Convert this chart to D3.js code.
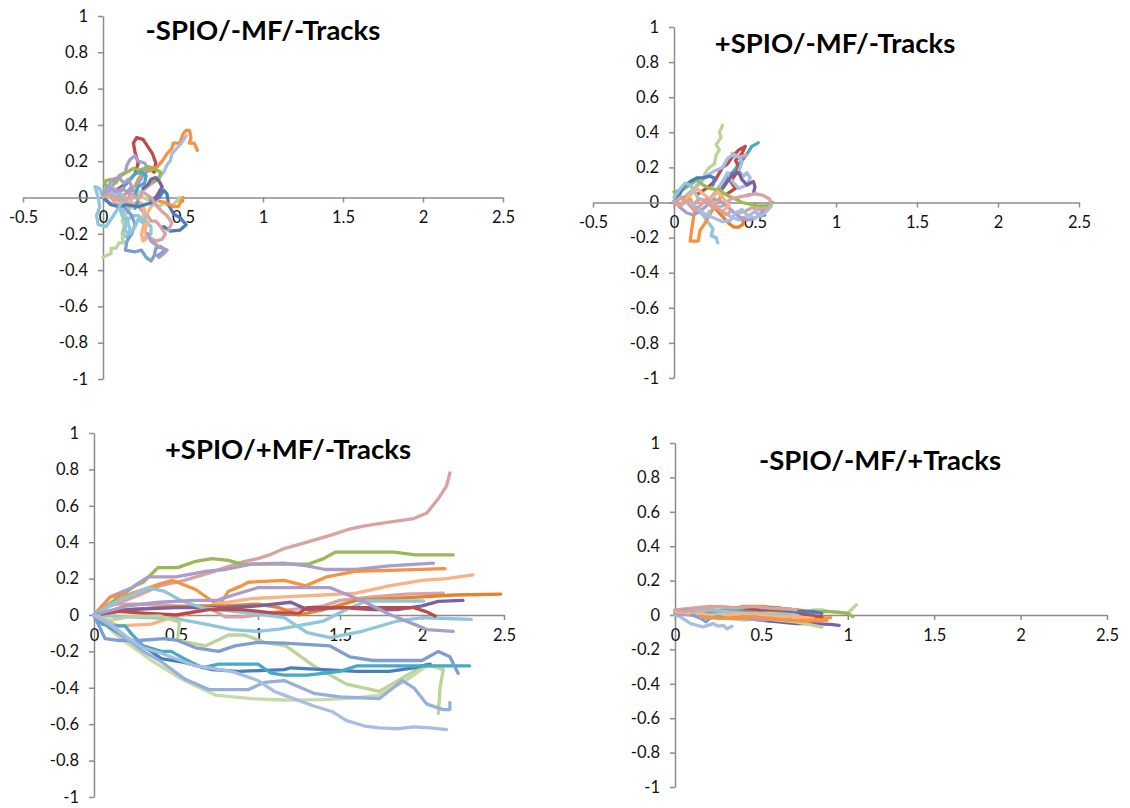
<!DOCTYPE html>
<html>
<head>
<meta charset="utf-8">
<script src="https://cdn.jsdelivr.net/npm/d3@7"></script>
<style>
  body { margin: 0; background: #fff; }
  svg { display: block; }
</style>
</head>
<body>
<svg width="1130" height="808"></svg>
<script>
// tick values
const xTicksWide = [-0.5, 0, 0.5, 1, 1.5, 2, 2.5];
const xTicksNarrow = [0, 0.5, 1, 1.5, 2, 2.5];
const yTicks = [-1, -0.8, -0.6, -0.4, -0.2, 0, 0.2, 0.4, 0.6, 0.8, 1];

const titles = ["-SPIO/-MF/-Tracks", "+SPIO/-MF/-Tracks", "+SPIO/+MF/-Tracks", "-SPIO/-MF/+Tracks"];

// -SPIO/-MF/-Tracks
const tracksA = [
  [[0,0],[0.05,0.03],[0.1,0.05],[0.15,0.08],[0.2,0.13],[0.22,0.19],[0.2,0.25],[0.19,0.3],[0.21,0.33],[0.25,0.32],[0.28,0.28],[0.31,0.24],[0.33,0.19],[0.32,0.14],[0.29,0.16],[0.26,0.13],[0.24,0.15]],
  [[0,0],[0.05,0.02],[0.1,-0.02],[0.15,0.03],[0.2,0.06],[0.22,0.1],[0.25,0.14],[0.3,0.15],[0.34,0.17],[0.37,0.2],[0.4,0.24],[0.43,0.27],[0.44,0.3],[0.48,0.3],[0.5,0.35],[0.52,0.37],[0.54,0.37],[0.55,0.33],[0.54,0.3],[0.57,0.3],[0.59,0.26]],
  [[0,0],[0.05,0.03],[0.1,0],[0.15,-0.03],[0.22,0.02],[0.28,0.06],[0.34,0.1],[0.38,0.14],[0.4,0.18],[0.42,0.2],[0.43,0.24],[0.46,0.27],[0.49,0.3],[0.52,0.34]],
  [[0,0],[-0.02,0.05],[-0.05,0.06],[-0.03,0],[-0.02,-0.05],[-0.04,-0.1],[-0.03,-0.15],[0.02,-0.16],[0.05,-0.12],[0.08,-0.08],[0.1,-0.05],[0.13,-0.08],[0.15,-0.12],[0.17,-0.18],[0.15,-0.22],[0.12,-0.2],[0.14,-0.14],[0.18,-0.1],[0.22,-0.1],[0.25,-0.12],[0.3,-0.16],[0.3,-0.2],[0.26,-0.22]],
  [[0,0],[0.05,0],[0.1,-0.02],[0.15,-0.03],[0.18,-0.05],[0.15,-0.08],[0.12,-0.13],[0.14,-0.17],[0.12,-0.22],[0.13,-0.25],[0.1,-0.25],[0.08,-0.28],[0.05,-0.28],[0.05,-0.31],[0.02,-0.32],[0,-0.33]],
  [[0,0],[0.04,0.04],[0.08,0.09],[0.1,0.12],[0.14,0.14],[0.15,0.18],[0.17,0.21],[0.2,0.23],[0.22,0.2],[0.26,0.19],[0.28,0.16],[0.25,0.12],[0.22,0.08],[0.2,0.05],[0.16,0.02]],
  [[0.1,-0.02],[0.14,-0.06],[0.18,-0.1],[0.2,-0.15],[0.18,-0.2],[0.15,-0.24],[0.14,-0.29],[0.2,-0.3],[0.24,-0.29],[0.27,-0.33],[0.3,-0.35],[0.32,-0.32],[0.33,-0.28],[0.36,-0.27],[0.39,-0.29],[0.36,-0.31],[0.34,-0.32]],
  [[0,0],[0.04,-0.03],[0.08,-0.04],[0.12,-0.02],[0.16,-0.05],[0.2,-0.03],[0.24,-0.07],[0.28,-0.1],[0.3,-0.13],[0.33,-0.13],[0.36,-0.16],[0.39,-0.2],[0.37,-0.23],[0.33,-0.24],[0.29,-0.22],[0.26,-0.19],[0.27,-0.15]],
  [[0.05,0],[0.1,-0.03],[0.15,-0.01],[0.2,-0.04],[0.24,-0.03],[0.26,-0.07],[0.25,-0.11],[0.28,-0.14],[0.26,-0.18],[0.28,-0.22],[0.25,-0.24],[0.24,-0.2],[0.27,-0.1],[0.3,-0.05],[0.33,-0.03]],
  [[0,0],[0.02,0.05],[0.01,0.09],[0.05,0.1],[0.08,0.08],[0.11,0.12],[0.15,0.14],[0.19,0.16],[0.23,0.15],[0.28,0.17],[0.32,0.16],[0.36,0.14],[0.35,0.1],[0.3,0.08]],
  [[0.2,0.05],[0.25,0],[0.3,-0.02],[0.35,-0.05],[0.38,-0.03],[0.42,-0.05],[0.45,-0.03],[0.48,0],[0.47,-0.02]],
  [[0.1,0.02],[0.13,0.06],[0.16,0.09],[0.2,0.13],[0.24,0.14],[0.27,0.12],[0.26,0.08],[0.22,0.06],[0.2,0.02],[0.22,-0.02],[0.2,-0.06]],
  [[0.25,0.05],[0.28,0.07],[0.3,0.1],[0.33,0.11],[0.35,0.09],[0.37,0.06],[0.35,0.03],[0.33,0],[0.3,-0.01]],
  [[0,0],[0.05,-0.04],[0.1,-0.05],[0.15,-0.04],[0.22,-0.05],[0.3,-0.03],[0.35,0],[0.38,0.04],[0.4,0.02],[0.41,-0.04],[0.44,-0.09],[0.48,-0.11],[0.52,-0.15],[0.48,-0.18],[0.42,-0.185],[0.38,-0.16]],
  [[0.35,-0.02],[0.4,-0.03],[0.44,-0.05],[0.47,-0.05],[0.49,-0.02],[0.5,0]],
  [[0.28,-0.2],[0.3,-0.24],[0.33,-0.26],[0.37,-0.28],[0.4,-0.29],[0.38,-0.31],[0.35,-0.33]],
  [[0,0.04],[0.05,0.06],[0.1,0.03],[0.14,0],[0.1,-0.05],[0.12,-0.1],[0.15,-0.14],[0.13,-0.18],[0.17,-0.2],[0.2,-0.16],[0.22,-0.12],[0.25,-0.14],[0.27,-0.1]],
  [[0,0.02],[0.03,0.06],[0.06,0.1],[0.1,0.11],[0.13,0.08],[0.16,0.1],[0.18,0.06],[0.15,0.03],[0.12,0.05],[0.08,0.03],[0.05,0.05]],
  [[0,0],[0.03,0.02],[0.07,-0.02],[0.1,0.01],[0.14,-0.02],[0.18,0.02],[0.22,-0.01],[0.25,0.03],[0.3,0],[0.33,-0.04],[0.36,-0.07],[0.4,-0.1],[0.43,-0.14],[0.41,-0.18]]
];
const colorsA = ["red", "orange", "paleBlue", "lightAqua", "lightGreen", "lavender", "periwinkle", "pink", "lightOrange", "green", "lightGreen", "aqua", "purple", "blue", "orange", "lavender", "lightAqua", "lavender", "pink"];

// +SPIO/-MF/-Tracks
const tracksB = [
  [[0.1,0.05],[0.14,0.1],[0.18,0.14],[0.2,0.18],[0.22,0.2],[0.25,0.22],[0.26,0.27],[0.28,0.3],[0.26,0.33],[0.29,0.37],[0.28,0.4],[0.3,0.44]],
  [[0.2,0],[0.25,0.05],[0.3,0.1],[0.33,0.15],[0.37,0.18],[0.4,0.22],[0.43,0.25],[0.46,0.29],[0.48,0.32],[0.52,0.34]],
  [[0.15,-0.03],[0.2,-0.1],[0.24,-0.15],[0.23,-0.19],[0.26,-0.2],[0.27,-0.23]],
  [[0.15,0.05],[0.2,0.08],[0.25,0.12],[0.3,0.2],[0.33,0.22],[0.36,0.26],[0.4,0.3],[0.44,0.32],[0.42,0.28],[0.38,0.24],[0.4,0.2],[0.38,0.16],[0.35,0.12],[0.38,0.08],[0.33,0.05]],
  [[0.36,0.28],[0.4,0.26],[0.45,0.27]],
  [[0.05,0.02],[0.1,0.06],[0.15,0.1],[0.2,0.15],[0.25,0.18],[0.3,0.2],[0.33,0.25],[0.36,0.27],[0.4,0.26],[0.42,0.23],[0.4,0.18],[0.43,0.15],[0.45,0.17],[0.47,0.14],[0.45,0.1],[0.4,0.08],[0.36,0.12],[0.33,0.17],[0.3,0.12],[0.27,0.08],[0.25,0.04]],
  [[0.3,0.08],[0.33,0.12],[0.36,0.16],[0.4,0.17],[0.42,0.13],[0.45,0.1],[0.49,0.12],[0.5,0.09],[0.49,0.05],[0.45,0.04]],
  [[0,0],[0.05,0.03],[0.1,0.02],[0.13,-0.04],[0.12,-0.09],[0.11,-0.15],[0.1,-0.22],[0.15,-0.22],[0.16,-0.16],[0.19,-0.12],[0.22,-0.07],[0.25,-0.02],[0.28,0.02],[0.3,0.05],[0.28,0.08]],
  [[0.25,-0.03],[0.28,-0.06],[0.31,-0.09],[0.34,-0.12],[0.37,-0.14],[0.4,-0.14],[0.43,-0.12],[0.42,-0.09]],
  [[0,0.06],[0.05,0.07],[0.1,0.1],[0.14,0.13],[0.18,0.1],[0.22,0.08],[0.28,0.07],[0.33,0.04],[0.38,0.02],[0.42,0],[0.47,-0.01],[0.52,-0.02],[0.57,-0.02],[0.61,0]],
  [[0.2,0],[0.25,-0.03],[0.3,-0.02],[0.35,0.02],[0.4,0.03],[0.45,0.04],[0.5,0.05],[0.55,0.04],[0.59,0.02],[0.6,-0.01],[0.57,-0.04],[0.52,-0.04],[0.48,-0.03],[0.44,-0.05],[0.4,-0.06]],
  [[0.3,-0.05],[0.35,-0.08],[0.4,-0.1],[0.45,-0.08],[0.5,-0.05],[0.54,-0.08],[0.57,-0.05],[0.6,-0.02]],
  [[0,0],[0.03,0.04],[0.06,0.09],[0.1,0.12],[0.14,0.14],[0.18,0.14],[0.22,0.15],[0.25,0.14],[0.24,0.1]],
  [[0,0.03],[0.04,0.08],[0.07,0.11],[0.1,0.1],[0.13,0.06],[0.15,0.02],[0.12,-0.02],[0.15,-0.05],[0.2,-0.08],[0.22,-0.05]],
  [[0,0.01],[0.04,-0.03],[0.08,-0.06],[0.12,-0.07],[0.16,-0.05],[0.2,-0.02],[0.25,0.02],[0.3,0],[0.35,-0.04],[0.4,-0.08],[0.45,-0.1],[0.5,-0.09],[0.55,-0.05]],
  [[0.05,0],[0.1,0.04],[0.14,0.08],[0.18,0.05],[0.22,0.02],[0.27,0.06],[0.3,0.03],[0.34,-0.02],[0.3,-0.05]],
  [[0,0],[0.04,-0.02],[0.08,0.01],[0.12,-0.01],[0.16,0.02],[0.2,0.01],[0.24,-0.03],[0.27,0.01]],
  [[0.1,0],[0.15,-0.04],[0.2,-0.07],[0.25,-0.09],[0.3,-0.11],[0.35,-0.1],[0.38,-0.06],[0.42,-0.04],[0.45,-0.07],[0.5,-0.09],[0.53,-0.07]],
  [[0,0],[0.04,0.03],[0.08,0],[0.12,-0.04],[0.16,-0.02],[0.2,0.02],[0.24,0],[0.28,-0.04],[0.32,-0.07],[0.35,-0.05]]
];
const colorsB = ["lightGreen", "aqua", "lightAqua", "red", "pink", "paleBlue", "purple", "orange", "darkOrange", "green", "pink", "paleBlue", "blue", "lightAqua", "lavender", "lightOrange", "pink", "paleBlue", "pink"];

// +SPIO/+MF/-Tracks
const tracksC = [
  [[0,0],[0.1,0.05],[0.25,0.1],[0.4,0.16],[0.55,0.19],[0.7,0.23],[0.8,0.26],[0.9,0.29],[1,0.31],[1.07,0.33],[1.16,0.365],[1.3,0.4],[1.45,0.44],[1.55,0.47],[1.65,0.49],[1.8,0.51],[1.95,0.53],[2.03,0.56],[2.1,0.64],[2.15,0.71],[2.17,0.78]],
  [[0,0],[0.13,0.085],[0.25,0.16],[0.3,0.18],[0.39,0.26],[0.51,0.26],[0.62,0.295],[0.72,0.31],[0.82,0.3],[0.9,0.28],[1.16,0.28],[1.31,0.28],[1.4,0.31],[1.47,0.345],[1.83,0.345],[1.96,0.33],[2.19,0.33]],
  [[0,0],[0.1,0.1],[0.23,0.15],[0.33,0.21],[0.5,0.21],[0.68,0.24],[0.8,0.25],[0.96,0.28],[1.16,0.285],[1.3,0.27],[1.41,0.25],[1.6,0.25],[1.8,0.27],[2.07,0.285]],
  [[0,0],[0.1,0.1],[0.2,0.11],[0.3,0.14],[0.4,0.17],[0.48,0.19],[0.62,0.14],[0.73,0.07],[0.76,0.05],[0.82,0.13],[0.9,0.16],[0.94,0.18],[1.16,0.19],[1.29,0.16],[1.42,0.21],[1.59,0.24],[1.8,0.245],[2.14,0.255]],
  [[0,0],[0.15,-0.06],[0.35,-0.05],[0.45,-0.02],[0.55,0],[0.74,0.06],[0.96,0.09],[1.16,0.1],[1.4,0.11],[1.6,0.12],[1.8,0.16],[2,0.19],[2.15,0.2],[2.31,0.22]],
  [[0,0],[0.1,0.06],[0.3,0.06],[0.5,0.05],[0.7,0.04],[0.8,-0.01],[0.9,-0.01],[1,0],[1.2,0.03],[1.4,0.05],[1.5,0.08],[1.7,0.1],[1.9,0.115],[2.13,0.12]],
  [[0,0],[0.2,0.03],[0.4,0.04],[0.6,0.05],[0.8,0.05],[1,0.06],[1.13,0.04],[1.25,0],[1.4,0.03],[1.6,0.08],[1.8,0.09],[2,0.1],[2.2,0.11],[2.48,0.115]],
  [[0,0],[0.2,0.03],[0.5,0.04],[0.8,0.04],[1,0.05],[1.2,0.07],[1.3,0.03],[1.5,0.04],[1.7,0.03],[1.85,0.03],[2,0.05],[2.1,0.075],[2.25,0.08]],
  [[0,0],[0.2,-0.01],[0.5,-0.02],[0.68,-0.05],[0.84,-0.08],[1,-0.09],[1.13,-0.078],[1.4,-0.033],[1.52,0.022],[1.66,0.077],[2.01,0.077]],
  [[0,0],[0.15,0.08],[0.33,0.15],[0.43,0.13],[0.53,0.08],[0.66,0.04],[0.85,0.02],[1,0.005],[1.16,-0.015],[1.3,-0.097],[1.44,-0.124],[1.64,-0.088],[1.85,-0.033],[2.01,-0.015],[2.3,-0.024]],
  [[0,0],[0.15,0.02],[0.3,0.01],[0.5,0],[0.7,0.03],[0.9,0.03],[1.1,0.01],[1.25,0.01],[1.3,0.04],[1.5,0.04],[1.7,0.04],[1.95,0.04],[2.02,0.02],[2.08,-0.005]],
  [[0,0],[0.2,0.05],[0.4,0.07],[0.6,0.08],[0.75,0.08],[0.85,0.11],[1,0.15],[1.13,0.15],[1.44,0.15],[1.64,0.077],[1.8,0.004],[1.95,-0.05],[2.03,-0.08],[2.19,-0.09]],
  [[0,0],[0.1,-0.03],[0.2,-0.01],[0.4,-0.005],[0.52,-0.04],[0.51,-0.14],[0.68,-0.17],[0.82,-0.11],[0.92,-0.11],[1.04,-0.15],[1.17,-0.17],[1.34,-0.28],[1.54,-0.38],[1.74,-0.42],[1.95,-0.31],[2.03,-0.27],[2.13,-0.3],[2.11,-0.4],[2.1,-0.54]],
  [[0,0],[0.15,-0.12],[0.35,-0.25],[0.55,-0.36],[0.74,-0.44],[0.96,-0.46],[1.16,-0.467],[1.4,-0.465],[1.6,-0.455],[1.74,-0.44],[1.9,-0.36],[2.03,-0.28],[2.13,-0.29]],
  [[0,0],[0.1,-0.07],[0.2,-0.13],[0.35,-0.2],[0.41,-0.24],[0.55,-0.26],[0.72,-0.3],[0.88,-0.31],[1.16,-0.3],[1.2,-0.29],[1.4,-0.3],[1.6,-0.31],[1.8,-0.31],[1.95,-0.29],[2.05,-0.27]],
  [[0,0],[0.05,-0.05],[0.1,-0.06],[0.19,-0.06],[0.23,-0.105],[0.3,-0.17],[0.41,-0.2],[0.47,-0.2],[0.55,-0.24],[0.66,-0.29],[0.76,-0.27],[1,-0.27],[1.08,-0.32],[1.16,-0.33],[1.3,-0.33],[1.5,-0.31],[1.6,-0.28],[2,-0.28],[2.29,-0.28]],
  [[0,0],[0.067,-0.13],[0.15,-0.14],[0.27,-0.14],[0.43,-0.13],[0.51,-0.14],[0.62,-0.18],[0.76,-0.2],[0.86,-0.17],[1,-0.15],[1.16,-0.155],[1.44,-0.17],[1.56,-0.23],[1.7,-0.25],[2,-0.25],[2.1,-0.2],[2.17,-0.23],[2.22,-0.32]],
  [[0,0],[0.1,-0.06],[0.2,-0.13],[0.3,-0.2],[0.4,-0.25],[0.55,-0.35],[0.7,-0.41],[0.94,-0.41],[1.04,-0.37],[1.16,-0.36],[1.34,-0.43],[1.5,-0.45],[1.74,-0.46],[1.88,-0.36],[1.95,-0.4],[2.03,-0.49],[2.13,-0.52],[2.17,-0.52],[2.17,-0.48]],
  [[0,0],[0.1,-0.05],[0.2,-0.12],[0.3,-0.18],[0.41,-0.21],[0.62,-0.28],[0.84,-0.31],[1,-0.36],[1.1,-0.42],[1.16,-0.44],[1.34,-0.5],[1.45,-0.53],[1.54,-0.58],[1.65,-0.61],[1.74,-0.62],[1.85,-0.625],[1.95,-0.615],[2.05,-0.62],[2.15,-0.63]]
];
const colorsC = ["pink", "green", "lavender", "orange", "lightOrange", "pink", "darkOrange", "purple", "lightAqua", "lightAqua", "red", "lavender", "lightGreen", "paleGreen", "blue", "aqua", "periwinkle", "lightBlue", "paleBlue"];

// -SPIO/-MF/+Tracks
const tracksD = [
  [[0,0],[0.03,-0.01],[0.06,-0.03],[0.09,-0.05],[0.13,-0.06],[0.16,-0.07],[0.19,-0.06],[0.22,-0.05],[0.25,-0.065],[0.28,-0.06],[0.3,-0.08],[0.33,-0.065]],
  [[0,0.01],[0.1,0.02],[0.2,0.01],[0.3,0],[0.4,0.01],[0.5,0],[0.6,0.01],[0.7,0],[0.8,0.03],[0.85,0.03],[0.9,0.02],[0.95,0.015],[1,0.01],[1.05,0.06]],
  [[0,0.02],[0.15,0.03],[0.3,0.02],[0.5,0.03],[0.65,0.02],[0.8,0.02],[0.9,0.02],[0.95,0.015],[1,0.01],[1.03,-0.01]],
  [[0,0.01],[0.2,0],[0.4,-0.02],[0.5,-0.03],[0.6,-0.04],[0.7,-0.05],[0.8,-0.05],[0.9,-0.055],[0.95,-0.06]],
  [[0.3,-0.02],[0.4,-0.03],[0.5,-0.02],[0.6,-0.03],[0.7,-0.04],[0.8,-0.06],[0.85,-0.07]],
  [[0,0.03],[0.1,0.04],[0.2,0.05],[0.3,0.045],[0.4,0.04],[0.5,0.045],[0.6,0.04],[0.7,0.03],[0.75,0.02]],
  [[0.1,0],[0.2,-0.015],[0.3,-0.01],[0.4,-0.02],[0.5,-0.025],[0.6,-0.02],[0.7,-0.03],[0.8,-0.02],[0.9,-0.015]],
  [[0.3,0.03],[0.4,0.05],[0.5,0.05],[0.6,0.04],[0.7,0.03],[0.8,0.02]],
  [[0,0.02],[0.1,0.03],[0.2,0.02],[0.3,0.03],[0.4,0.025],[0.5,0.03],[0.55,0.04],[0.6,0.03],[0.7,0.02],[0.8,0.01]],
  [[0,0],[0.1,0.01],[0.2,0.03],[0.3,0.02],[0.4,0.01],[0.5,0.01],[0.6,0],[0.7,0.01]],
  [[0.4,0.04],[0.5,0.03],[0.6,0.03],[0.7,0.02],[0.75,0],[0.85,-0.01]],
  [[0.5,0.04],[0.6,0.04],[0.65,0.03],[0.7,0.02],[0.8,0.02],[0.85,0.01]],
  [[0,0.01],[0.1,0],[0.2,-0.01],[0.3,-0.02],[0.4,-0.02],[0.5,-0.03],[0.6,-0.02],[0.65,-0.01]],
  [[0,0.02],[0.1,0.01],[0.2,0],[0.3,0],[0.4,0.01],[0.5,0],[0.6,-0.01],[0.7,-0.01],[0.8,-0.02]],
  [[0,0.03],[0.05,0.02],[0.1,0.03],[0.2,0.04],[0.25,0.05],[0.35,0.04],[0.45,0.05],[0.55,0.04],[0.65,0.035],[0.7,0.03]],
  [[0.1,0],[0.15,-0.02],[0.18,-0.04],[0.2,-0.02],[0.25,-0.01],[0.3,-0.02]],
  [[0.15,-0.01],[0.25,-0.02],[0.35,-0.02],[0.45,-0.01],[0.55,-0.02],[0.65,-0.03],[0.75,-0.035],[0.88,-0.03]]
];
const colorsD = ["paleBlue", "lightGreen", "green", "purple", "lightGreen", "pink", "orange", "darkOrange", "aqua", "lightAqua", "red", "blue", "lavender", "lightOrange", "pink", "periwinkle", "orange"];

const palette = {
  blue: "#4a7ebb", red: "#be4b48", green: "#98b954", purple: "#7d60a0", aqua: "#46aac5",
  orange: "#f69240", darkOrange: "#e8802e", paleBlue: "#a9bde2", lightBlue: "#95b0da",
  periwinkle: "#7f9dd1", pink: "#d8a3a1", lightGreen: "#bcd39a", paleGreen: "#c7dba8",
  lavender: "#ab9dca", lightAqua: "#8ec7dc", lightOrange: "#f9b283"
};

const svg = d3.select("svg");

const panels = [
  { tracks: tracksA, colors: colorsA, xTicks: xTicksWide, x: [23, 503], y: [379, 16], title: [263, 40] },
  { tracks: tracksB, colors: colorsB, xTicks: xTicksWide, x: [593, 1079], y: [378, 27], title: [835, 53] },
  { tracks: tracksC, colors: colorsC, xTicks: xTicksNarrow, x: [94, 504], y: [797, 433], title: [288, 459] },
  { tracks: tracksD, colors: colorsD, xTicks: xTicksNarrow, x: [675, 1107], y: [787, 443], title: [880, 470] }
];

panels.forEach((p, i) => {
  const x = d3.scaleLinear().domain(d3.extent(p.xTicks)).range(p.x);
  const y = d3.scaleLinear().domain([-1, 1]).range(p.y);
  const g = svg.append("g");

  // 축
  const yAxis = g.append("g")
    .attr("transform", `translate(${x(0)},0)`)
    .call(d3.axisLeft(y).tickValues(yTicks).tickFormat(d => String(d)).tickSize(5).tickSizeOuter(0).tickPadding(10));
  const xAxis = g.append("g")
    .attr("transform", `translate(0,${y(0)})`)
    .call(d3.axisBottom(x).tickValues(p.xTicks).tickFormat(d => String(d)).tickSize(5).tickSizeOuter(0).tickPadding(9));

  [yAxis, xAxis].forEach(a => {
    a.select(".domain").attr("stroke", "#8c8c8c").attr("stroke-width", 1.5);
    a.selectAll(".tick line").attr("stroke", "#8c8c8c").attr("stroke-width", 1.5);
    a.selectAll("text").attr("font-family", "Lato, 'Open Sans', sans-serif").attr("font-size", 16.5).attr("fill", "#111");
  });

  // 궤적
  const line = d3.line().x(d => x(d[0])).y(d => y(d[1]));
  g.append("g").selectAll("path")
    .data(p.tracks)
    .enter()
    .append("path")
    .attr("d", line)
    .attr("fill", "none")
    .attr("stroke", (_, j) => palette[p.colors[j]])
    .attr("stroke-width", 3.3)
    .attr("stroke-linejoin", "round")
    .attr("stroke-linecap", "round");

  g.append("text")
    .attr("x", p.title[0])
    .attr("y", p.title[1])
    .attr("text-anchor", "middle")
    .attr("font-family", "Lato, 'Open Sans', sans-serif")
    .attr("font-weight", "bold")
    .attr("font-size", 27.5)
    .attr("fill", "#000")
    .text(titles[i]);
});
</script>
</body>
</html>
